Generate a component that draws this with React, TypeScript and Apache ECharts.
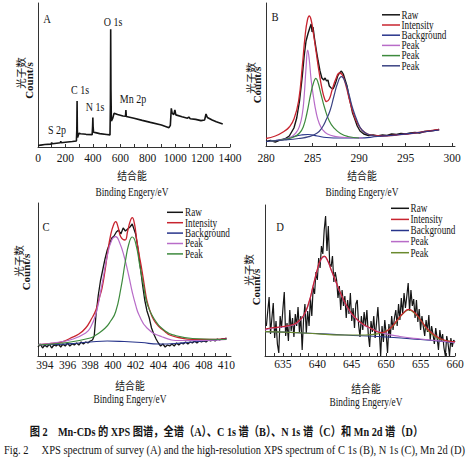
import { useEffect, useRef } from "react";
import * as echarts from "echarts";

type Pt = [number, number];

// ---------- Panel A: survey spectrum (binding energy eV, counts a.u.) ----------
const surveyA: Pt[] = [
  [0, 1.0], [20, 1.3], [50, 1.7], [95, 2.0], [100, 3.0], [105, 2.2], [150, 2.8], [163, 2.9], [166, 4.0], [170, 3.0],
  [200, 3.3], [250, 3.8], [280, 4.2], [283, 12], [285, 31.9], [287, 12], [289, 6.5], [295, 8.5], [300, 9.6], [310, 9.2],
  [350, 8.8], [395, 8.6], [398, 14], [400, 20.4], [402, 14], [405, 10.3], [420, 10.0], [450, 9.3], [500, 8.7], [525, 8.4],
  [528, 30], [530, 81.7], [532, 40], [535, 18], [545, 20], [555, 23.5], [580, 22.5], [620, 21.5], [638, 21.3], [641, 25.7],
  [644, 21.2], [700, 20.0], [760, 18.5], [820, 17.1], [900, 15.3], [955, 13.4], [965, 15], [972, 26.9], [978, 23.5], [990, 22.5],
  [998, 25.7], [1005, 22.3], [1050, 21], [1090, 20.0], [1100, 20.8], [1110, 19.6], [1150, 19.2], [1188, 18.3], [1215, 18.8], [1225, 22.9],
  [1235, 20.5], [1270, 18.75], [1300, 17.5], [1347, 16],
];
const surveyPeakLabels = ["O 1s", "C 1s", "N 1s", "Mn 2p", "S 2p"];

// ---------- Panel B: C 1s ----------
const rawB: Pt[] = [
  [280, 4.5], [280.5, 5.5], [281, 4], [281.5, 6], [282, 7], [282.5, 10], [283, 18], [283.3, 28], [283.6, 45], [283.9, 70],
  [284.1, 90], [284.3, 105], [284.5, 112], [284.7, 118], [284.85, 122], [284.95, 114], [285.05, 119], [285.2, 108], [285.4, 96], [285.6, 85],
  [285.8, 75], [286.0, 68], [286.2, 66], [286.35, 68], [286.5, 65], [286.65, 66], [286.8, 60], [287.0, 58], [287.2, 57], [287.35, 60],
  [287.5, 64], [287.7, 70], [287.9, 73], [288.1, 75], [288.3, 72], [288.5, 66], [288.7, 60], [288.9, 50], [289.1, 42], [289.3, 33],
  [289.5, 28], [289.8, 20], [290.1, 15], [290.5, 12], [291, 10.5], [291.5, 11], [292, 10], [292.5, 11], [293, 10.5], [293.5, 12],
  [294, 11.5], [294.5, 12.5], [295, 12], [295.5, 13], [296, 13.5], [296.5, 13], [297, 14.5], [297.5, 15], [298, 15.5], [298.6, 16.5],
];
const fitB: Pt[] = [
  [280, 7.5], [281, 10], [282, 15], [282.5, 19], [283, 27], [283.5, 45], [283.9, 80], [284.2, 110], [284.45, 126], [284.65, 130],
  [284.85, 126], [285.1, 112], [285.4, 93], [285.7, 74], [286, 58], [286.3, 47], [286.5, 44.5], [286.8, 47], [287.1, 56], [287.5, 67],
  [287.9, 73], [288.2, 71], [288.6, 60], [289, 45], [289.4, 32], [289.8, 23], [290.3, 16], [290.8, 12.5], [291.5, 10.5], [292.5, 10],
  [294, 11], [296, 13], [298.6, 16.5],
];
const bgB: Pt[] = [
  [280, 4.5], [281, 5.5], [282, 7], [283, 9.5], [283.8, 11], [284.5, 11.5], [285.5, 10], [286.5, 8.5], [288, 8], [290, 8],
  [292, 9.5], [294, 11], [296, 13], [298.6, 16],
];
const peak1B: Pt[] = [
  [280.5, 5], [281.5, 6], [282.5, 8], [283.2, 13], [283.6, 20], [283.9, 32], [284.1, 50], [284.3, 78], [284.48, 96], [284.65, 86],
  [284.85, 66], [285.1, 49], [285.4, 33], [285.7, 23], [286.1, 16], [286.6, 12], [287.5, 9.5], [288.5, 8.5], [290.4, 8],
];
const peak2B: Pt[] = [
  [280.5, 5], [282, 6.5], [283, 9], [283.6, 13], [284, 19], [284.4, 33], [284.8, 52], [285.1, 63], [285.36, 67.7], [285.6, 63],
  [285.9, 52], [286.3, 38], [286.8, 25], [287.3, 18], [288, 12.5], [288.8, 9.5], [290, 8],
];
const peak3B: Pt[] = [
  [280.5, 5], [282, 6], [283.5, 7.5], [284.6, 9.3], [285.5, 13], [286, 18], [286.5, 27], [286.9, 36], [287.3, 50], [287.7, 63],
  [288.1, 69.3], [288.5, 64], [288.9, 52], [289.3, 38], [289.8, 25], [290.3, 16], [291, 11.5], [292.3, 9.5],
];

// ---------- Panel C: N 1s ----------
const rawC: Pt[] = [
  [393.4, 9], [393.6, 12], [393.8, 8], [394.0, 11], [394.2, 9], [394.4, 12], [394.6, 8], [394.8, 11], [395.0, 10], [395.2, 12],
  [395.4, 9], [395.6, 12], [395.8, 10], [396.0, 13], [396.2, 10], [396.4, 12], [396.6, 11], [396.8, 13], [397.0, 11], [397.2, 14],
  [397.4, 12], [397.6, 14], [397.8, 13], [398.0, 15], [398.2, 16], [398.35, 20], [398.5, 40], [398.7, 60], [398.9, 75], [399.1, 86],
  [399.3, 97], [399.5, 106], [399.7, 112], [399.9, 118], [400.1, 120], [400.3, 124], [400.5, 126], [400.7, 122], [400.9, 128], [401.1, 125],
  [401.3, 127], [401.5, 129], [401.7, 132], [401.85, 127], [402.0, 122], [402.2, 108], [402.4, 90], [402.6, 72], [402.8, 56], [403.0, 45],
  [403.2, 38], [403.4, 28], [403.6, 22], [403.8, 17], [404.0, 13], [404.2, 10], [404.4, 12], [404.6, 9], [404.8, 11], [405.0, 10],
  [405.2, 12], [405.4, 10], [405.6, 13], [405.8, 11], [406.0, 13], [406.2, 12], [406.4, 14], [406.6, 12], [406.8, 14], [407.0, 13],
  [407.2, 15], [407.4, 13], [407.6, 15], [407.8, 14], [408.0, 15], [408.2, 14], [408.4, 16], [408.6, 15], [408.8, 16], [409.0, 15],
  [409.2, 17], [409.4, 16], [409.6, 17], [409.8, 17], [410.0, 18],
];
const fitC: Pt[] = [
  [393.4, 11], [394.5, 12.5], [395.5, 14], [396.2, 17.5], [397, 22], [397.6, 28], [398.1, 37], [398.5, 46], [398.8, 58], [399.04, 68],
  [399.3, 85], [399.5, 101], [399.8, 121], [400.05, 131], [400.24, 134.3], [400.45, 129], [400.7, 119], [401.06, 116], [401.3, 125], [401.5, 134],
  [401.7, 138.3], [401.9, 132], [402.1, 116], [402.3, 102], [402.55, 86], [402.8, 68], [403.0, 55], [403.3, 44], [403.6, 36], [404.0, 30],
  [404.6, 24.3], [405, 21], [406, 18], [407, 16.7], [408.5, 16.5], [410, 17.7],
];
const bgC: Pt[] = [
  [393.4, 11], [395, 11.5], [396.5, 12.5], [398, 14], [399.5, 15], [401, 14.5], [402.5, 13.5], [404, 12], [405.5, 12.5], [407, 14],
  [408.5, 15.5], [410, 17],
];
const peak1C: Pt[] = [
  [393.4, 11.5], [395, 13.5], [396.5, 17], [397.6, 23], [398, 28], [398.5, 42], [399.04, 72], [399.5, 100], [399.9, 116], [400.24, 119.3],
  [400.6, 113], [401, 99], [401.4, 80], [401.7, 64], [402, 51], [402.3, 41], [403, 28], [404.3, 19.3], [406, 15.5], [408, 15.5],
  [410, 16.5],
];
const peak2C: Pt[] = [
  [393.4, 11], [396, 13.5], [398, 18], [398.5, 21], [399.3, 27.7], [399.8, 35], [400.24, 44.3], [400.7, 67.7], [401.1, 95], [401.4, 112],
  [401.7, 119], [402, 113], [402.4, 88], [402.7, 70], [403, 53], [403.6, 37.7], [404.6, 25], [405.5, 20.5], [407, 17.5], [410, 16.5],
];

// ---------- Panel D: Mn 2p/2d ----------
const rawDStart = 632.6; // eV, instrument energy grid
const rawDStep = 0.2;
const rawDCounts = [
  30, 45, 59, 22, 38, 53, 18, 35, 12, 3,
  40, 28, 47, 64, 20, 33, 15, 46, 25, 38,
  19, 42, 30, 49, 24, 40, 6, 36, 52, 23,
  45, 30, 58, 40, 69, 62, 84, 76, 98, 88,
  110, 102, 126, 140, 105, 130, 92, 89, 100, 74,
  84, 76, 58, 70, 46, 66, 50, 60, 38, 56,
  42, 63, 35, 48, 28, 52, 56, 31, 19, 40,
  26, 44, 30, 46, 22, 9, 35, 24, 40, 18,
  33, 49, 26, 0, 30, 14, 36, 22, 3, 32,
  18, 40, 26, 38, 46, 30, 52, 36, 58, 42,
  63, 48, 60, 73, 45, 66, 50, 57, 38, 56,
  34, 47, 26, 40, 29, 20, 36, 24, 41, 16,
  30, 22, 12, 28, 18, 6, 26, 15, 22, 8,
  0, 20, 12, 0, 18, 9, 16, 14,
];
const fitD: Pt[] = [
  [632.4, 27], [633.2, 28], [635, 29.5], [636.5, 31.5], [637.05, 33.5], [638, 40.5], [638.75, 53], [639.4, 70.5], [640, 86.5], [640.5, 96.5],
  [641, 99.8], [641.5, 95.5], [642, 86.5], [642.4, 79.8], [643.1, 67.5], [643.8, 56.5], [644.5, 47.5], [645.3, 40], [646.5, 32.5], [647.7, 28],
  [648.6, 24.5], [649.4, 23.3], [650.1, 25], [650.8, 29], [651.5, 35], [652.5, 43], [653.3, 46.7], [654.2, 43], [655, 36], [656, 27],
  [657, 21], [658, 17], [659, 15], [660, 14.3],
];
const bgD: Pt[] = [
  [632.4, 24.3], [638, 23], [644, 21], [650, 19], [655, 16.5], [660, 13.3],
];
const peak1D: Pt[] = [
  [632.4, 26], [633.2, 27.7], [635, 29], [636.5, 31], [637.05, 33], [638, 40], [638.75, 52.7], [639.4, 70], [640, 86], [640.5, 96],
  [641, 99.3], [641.5, 95], [642, 86], [642.4, 79.3], [643.1, 67], [643.8, 56], [644.5, 47], [645.3, 39.3], [646.5, 32], [647.7, 27.7],
  [649.7, 22.7], [652, 19.5], [655, 17], [660, 13.5],
];
const peak2D: Pt[] = [
  [632.4, 24.3], [638, 23], [644, 21], [647, 21], [649, 22.5], [650, 25], [651, 30], [652, 39], [652.7, 44], [653.3, 46],
  [654, 43.5], [655, 36], [656, 26], [657, 20], [658, 16.5], [659, 15], [660, 14],
];

// ---------- axis ticks ----------
const aTickLabels = [0, 200, 400, 600, 800, 1000, 1200, 1400];
const aTickMarks = [0, 100, 200, 300, 400, 500, 600, 700, 800, 900, 1000, 1100, 1200, 1300, 1400];
const bTickLabels = [280, 285, 290, 295, 300];
const bTickMarks = [280, 282.5, 285, 287.5, 290, 292.5, 295, 297.5, 300];
const cTickLabels = [394, 396, 398, 400, 402, 404, 406, 408, 410];
const cTickMarks = [394, 395, 396, 397, 398, 399, 400, 401, 402, 403, 404, 405, 406, 407, 408, 409, 410];
const dTickLabels = [635, 640, 645, 650, 655, 660];
const dTickMarks = [632.5, 633.75, 635, 636.25, 637.5, 638.75, 640, 641.25, 642.5, 643.75, 645, 646.25, 647.5, 648.75, 650, 651.25, 652.5, 653.75, 655, 656.25, 657.5, 658.75, 660];

const legendB = ["Raw", "Intensity", "Background", "Peak", "Peak", "Peak"];
const legendCD = ["Raw", "Intensity", "Background", "Peak", "Peak"];
const panelLetters = ["A", "B", "C", "D"];
const xName = ["结合能", "Binding Engery/eV"];
const yName = ["光子数", "Count/s"];
const caption1 = "图 2　Mn-CDs 的 XPS 图谱，全谱（A）、C 1s 谱（B）、N 1s 谱（C）和 Mn 2d 谱（D）";
const caption2 = "Fig. 2　 XPS spectrum of survey (A) and the high-resolution XPS spectrum of C 1s (B), N 1s (C), Mn 2d (D)";

const SERIF = '"Liberation Serif", "Times New Roman", serif';
const MIXED = '"Liberation Serif", "Noto Sans CJK SC", serif';
const CJK = '"Noto Sans CJK SC", sans-serif';

const BLACK = "#151515";
const RED = "#c8242f";
const NAVY = "#27348b";
const VIOLET = "#b86cc8";
const GREEN = "#3d8a3d";
const NAVY2 = "#3b4383";
const OLIVE = "#6a8a2e";

export default function App() {
  const ref = useRef<HTMLDivElement>(null);

  useEffect(() => {
    if (!ref.current) return;
    const chart = echarts.init(ref.current, null, { renderer: "svg" });

    const line = (data: Pt[], idx: number, color: string, width: number, smooth: boolean | number, z = 2) => ({
      type: "line",
      xAxisIndex: idx,
      yAxisIndex: idx,
      data,
      symbol: "none",
      showSymbol: false,
      smooth,
      silent: true,
      z,
      lineStyle: { color, width },
      itemStyle: { color },
    });

    const rawD: Pt[] = rawDCounts.map((v, i) => [rawDStart + i * rawDStep, v]);

    const txt = (text: string, x: number, y: number, o: any = {}) => ({
      type: "text",
      x,
      y,
      scaleX: o.sx ?? 1,
      scaleY: o.sy ?? 1,
      rotation: o.rot ?? 0,
      silent: true,
      z: 100,
      style: {
        text,
        fontSize: o.fs ?? 12,
        fontFamily: o.ff ?? SERIF,
        fontWeight: o.fw ?? "normal",
        fill: BLACK,
        align: o.align ?? "center",
        verticalAlign: "middle",
      },
    });

    const legend = (names: string[], colors: string[], x1: number, x2: number, tx: number, y0: number, dy: number) => {
      const els: any[] = [];
      names.forEach((n, i) => {
        const y = y0 + i * dy;
        els.push({
          type: "line",
          silent: true,
          z: 100,
          shape: { x1, y1: y, x2, y2: y },
          style: { stroke: colors[i], lineWidth: 1.5 },
        });
        els.push(txt(n, tx, y, { fs: 11.5, sx: 0.8, align: "left" }));
      });
      return els;
    };

    const axisNames = (cx: number, y1: number, y2: number) => [
      txt(xName[0], cx, y1, { fs: 11.5, sx: 0.85, ff: CJK }),
      txt(xName[1], cx, y2, { fs: 12, sx: 0.78 }),
    ];
    const yNames = (x1: number, y1: number, x2: number, y2: number) => [
      txt(yName[0], x1, y1, { fs: 10.5, ff: CJK, rot: Math.PI / 2 }),
      txt(yName[1], x2, y2, { fs: 11, rot: Math.PI / 2, fw: "bold" }),
    ];

    const xAxisBase = (idx: number, min: number, max: number, labels: number[], ticks: number[], margin: number) => ({
      type: "value",
      gridIndex: idx,
      min,
      max,
      axisLine: { show: true, onZero: false, lineStyle: { color: "#333", width: 1 } },
      axisTick: { show: true, inside: true, length: 3, customValues: ticks, lineStyle: { color: "#333", width: 1 } },
      axisLabel: {
        show: true,
        customValues: labels,
        fontSize: 11.5,
        fontFamily: SERIF,
        color: BLACK,
        margin,
        hideOverlap: false,
        formatter: (v: number) => String(v),
      },
      splitLine: { show: false },
    });
    const yAxisBase = (idx: number, max: number) => ({
      type: "value",
      gridIndex: idx,
      min: 0,
      max,
      axisLine: { show: true, lineStyle: { color: "#333", width: 1 } },
      axisTick: { show: false },
      axisLabel: { show: false },
      splitLine: { show: false },
    });

    const graphics: any[] = [
      // panel letters
      txt(panelLetters[0], 47, 19, { fs: 12.5, sx: 0.85 }),
      txt(panelLetters[1], 275, 17, { fs: 12.5, sx: 0.85 }),
      txt(panelLetters[2], 46, 227, { fs: 12.5, sx: 0.85 }),
      txt(panelLetters[3], 280, 227, { fs: 12.5, sx: 0.85 }),
      // survey peak labels
      txt(surveyPeakLabels[0], 113, 22, { fs: 12.5, sx: 0.8 }),
      txt(surveyPeakLabels[1], 80, 90, { fs: 12.5, sx: 0.8 }),
      txt(surveyPeakLabels[2], 95, 107, { fs: 12.5, sx: 0.8 }),
      txt(surveyPeakLabels[3], 133, 99, { fs: 12.5, sx: 0.8 }),
      txt(surveyPeakLabels[4], 57, 130, { fs: 12.5, sx: 0.8 }),
      // axis names
      ...axisNames(132, 175, 192),
      ...axisNames(362, 175, 191.5),
      ...axisNames(130, 385, 399),
      ...axisNames(366, 388, 402),
      ...yNames(20.5, 73, 28.7, 80.5),
      ...yNames(250, 78, 257, 85),
      ...yNames(18.5, 261, 26, 272),
      ...yNames(248, 270, 256, 287),
      // legends
      ...legend(legendB, [BLACK, RED, NAVY, VIOLET, GREEN, NAVY2], 382, 400, 401.5, 14.8, 10.2),
      ...legend(legendCD, [BLACK, RED, NAVY, VIOLET, GREEN], 167, 183, 185, 212.3, 10.4),
      ...legend(legendCD, [BLACK, RED, NAVY, VIOLET, OLIVE], 391, 409, 410.5, 208.3, 11.1),
      // captions
      txt(caption1, 226.5, 432, { fs: 12.5, sx: 0.82, fw: "bold", ff: MIXED }),
      txt(caption2, 4, 450, { fs: 12, sx: 0.875, ff: MIXED, align: "left" }),
    ];

    const option: any = {
      animation: false,
      backgroundColor: "#ffffff",
      grid: [
        { left: 38, top: 3, width: 192, height: 144, outerBoundsMode: "none" },
        { left: 266, top: 3, width: 189, height: 143, outerBoundsMode: "none" },
        { left: 38, top: 203, width: 193, height: 153, outerBoundsMode: "none" },
        { left: 265, top: 205, width: 190, height: 151, outerBoundsMode: "none" },
      ],
      xAxis: [
        xAxisBase(0, 0, 1400, aTickLabels, aTickMarks, 5),
        xAxisBase(1, 280, 300.3, bTickLabels, bTickMarks, 6),
        xAxisBase(2, 393.4, 410.4, cTickLabels, cTickMarks, 3),
        xAxisBase(3, 632.4, 660, dTickLabels, dTickMarks, 2),
      ],
      yAxis: [yAxisBase(0, 100), yAxisBase(1, 143), yAxisBase(2, 153), yAxisBase(3, 151)],
      series: [
        line(surveyA, 0, BLACK, 1.6, false),
        line(rawB, 1, BLACK, 1.4, false, 2),
        line(fitB, 1, RED, 1.3, true, 3),
        line(bgB, 1, NAVY, 1.2, true, 3),
        line(peak1B, 1, VIOLET, 1.2, true, 3),
        line(peak2B, 1, GREEN, 1.2, true, 3),
        line(peak3B, 1, NAVY2, 1.2, true, 3),
        line(rawC, 2, BLACK, 1.3, false, 2),
        line(fitC, 2, RED, 1.3, true, 3),
        line(bgC, 2, NAVY, 1.2, true, 3),
        line(peak1C, 2, VIOLET, 1.2, true, 3),
        line(peak2C, 2, GREEN, 1.2, true, 3),
        line(rawD, 3, BLACK, 1.2, false, 2),
        line(bgD, 3, NAVY, 1.2, true, 3),
        line(peak2D, 3, OLIVE, 1.2, true, 3),
        line(peak1D, 3, VIOLET, 1.2, true, 3),
        line(fitD, 3, RED, 1.2, true, 3),
      ],
      graphic: graphics,
    };

    chart.setOption(option);
    return () => chart.dispose();
  }, []);

  return (
    <div
      ref={ref}
      style={{ position: "fixed", left: 0, top: 0, width: 474, height: 464, background: "#fff" }}
    />
  );
}
